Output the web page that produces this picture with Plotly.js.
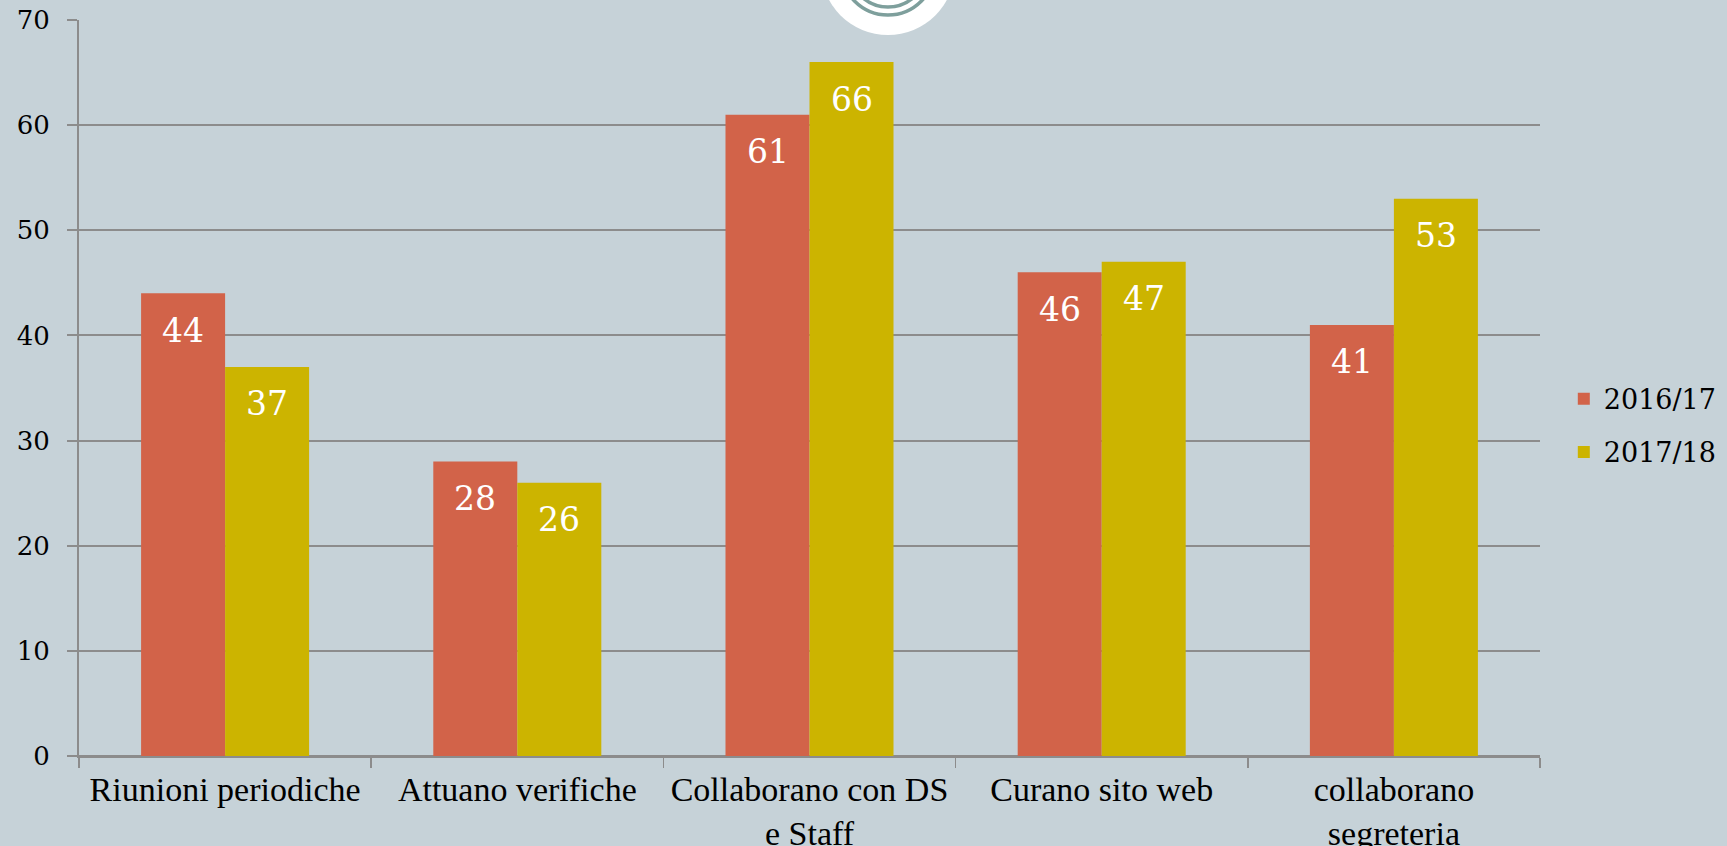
<!DOCTYPE html>
<html>
<head>
<meta charset="utf-8">
<script src="https://cdn.plot.ly/plotly-3.0.1.min.js"></script>
<style>
  html, body { margin: 0; padding: 0; background: #C6D2D8; }
  #chart { width: 1727px; height: 846px; }
</style>
</head>
<body>
<div id="chart"></div>
<script>
const categories = ["Riunioni periodiche", "Attuano verifiche", "Collaborano con DS<br>e Staff", "Curano sito web", "collaborano<br>segreteria"];
const series2016 = [44, 28, 61, 46, 41];
const series2017 = [37, 26, 66, 47, 53];
const seriesNames = ["2016/17", "2017/18"];
const yTicks = [0, 10, 20, 30, 40, 50, 60, 70];

const BG = "#C6D2D8";
const GRID = "#8C8C8C";
const RED = "#D26349";
const YEL = "#CCB400";
const numFont = "DejaVu Serif, Georgia, serif";
const catFont = "Liberation Serif, Times New Roman, serif";

const traces = [
  { type: "bar", name: seriesNames[0], x: categories, y: series2016, marker: { color: RED }, legendgroup: "a", hoverinfo: "y" },
  { type: "bar", name: seriesNames[1], x: categories, y: series2017, marker: { color: YEL }, legendgroup: "b", hoverinfo: "y" }
];

const annotations = [];
[series2016, series2017].forEach((s, si) => {
  s.forEach((v, i) => {
    annotations.push({
      x: categories[i], y: v, xref: "x", yref: "y",
      text: String(v), showarrow: false,
      xshift: si === 0 ? -42 : 42, yshift: -37,
      yanchor: "middle", xanchor: "center",
      font: { family: numFont, size: 33, color: "#FFFFFF" }
    });
  });
});

const ax = 0.5537;
const shapes = [
  { type: "circle", xref: "paper", yref: "paper", xsizemode: "pixel", ysizemode: "pixel",
    xanchor: ax, yanchor: 1, x0: -67, x1: 67, y0: -15, y1: 119,
    fillcolor: "#FFFFFF", line: { width: 0 }, layer: "below" },
  { type: "circle", xref: "paper", yref: "paper", xsizemode: "pixel", ysizemode: "pixel",
    xanchor: ax, yanchor: 1, x0: -47, x1: 47, y0: 5, y1: 99,
    fillcolor: "rgba(0,0,0,0)", line: { width: 3.5, color: "#7E9F9C" }, layer: "below" },
  { type: "circle", xref: "paper", yref: "paper", xsizemode: "pixel", ysizemode: "pixel",
    xanchor: ax, yanchor: 1, x0: -39, x1: 39, y0: 13, y1: 91,
    fillcolor: "rgba(0,0,0,0)", line: { width: 3.5, color: "#7E9F9C" }, layer: "below" }
];

const layout = {
  width: 1727, height: 846,
  paper_bgcolor: BG, plot_bgcolor: BG,
  margin: { l: 79, r: 187, t: 20, b: 90, autoexpand: false },
  barmode: "group",
  bargap: 0.425, bargroupgap: 0,
  showlegend: true,
  legend: {
    xref: "container", yref: "container",
    x: 0.9055, xanchor: "left", y: 0.557, yanchor: "top",
    font: { family: numFont, size: 27, color: "#000000" },
    bgcolor: "rgba(0,0,0,0)", tracegroupgap: 15
  },
  xaxis: {
    type: "category",
    showline: true, linecolor: GRID, linewidth: 2,
    ticks: "outside", tickson: "boundaries", ticklen: 10, tickcolor: GRID, tickwidth: 1.5,
    showgrid: false,
    ticklabelstandoff: 2,
    tickfont: { family: catFont, size: 34, color: "#000000" }
  },
  yaxis: {
    range: [0, 70], tickvals: yTicks, ticktext: yTicks.map(String),
    showline: true, linecolor: GRID, linewidth: 2,
    ticks: "outside", ticklen: 10, tickcolor: GRID, tickwidth: 2,
    showgrid: true, gridcolor: GRID, gridwidth: 2,
    zeroline: true, zerolinecolor: GRID, zerolinewidth: 2,
    ticklabelstandoff: 12,
    tickfont: { family: numFont, size: 26, color: "#000000" }
  },
  annotations: annotations,
  shapes: shapes
};

Plotly.newPlot("chart", traces, layout, { displayModeBar: false, staticPlot: true });
</script>
</body>
</html>
